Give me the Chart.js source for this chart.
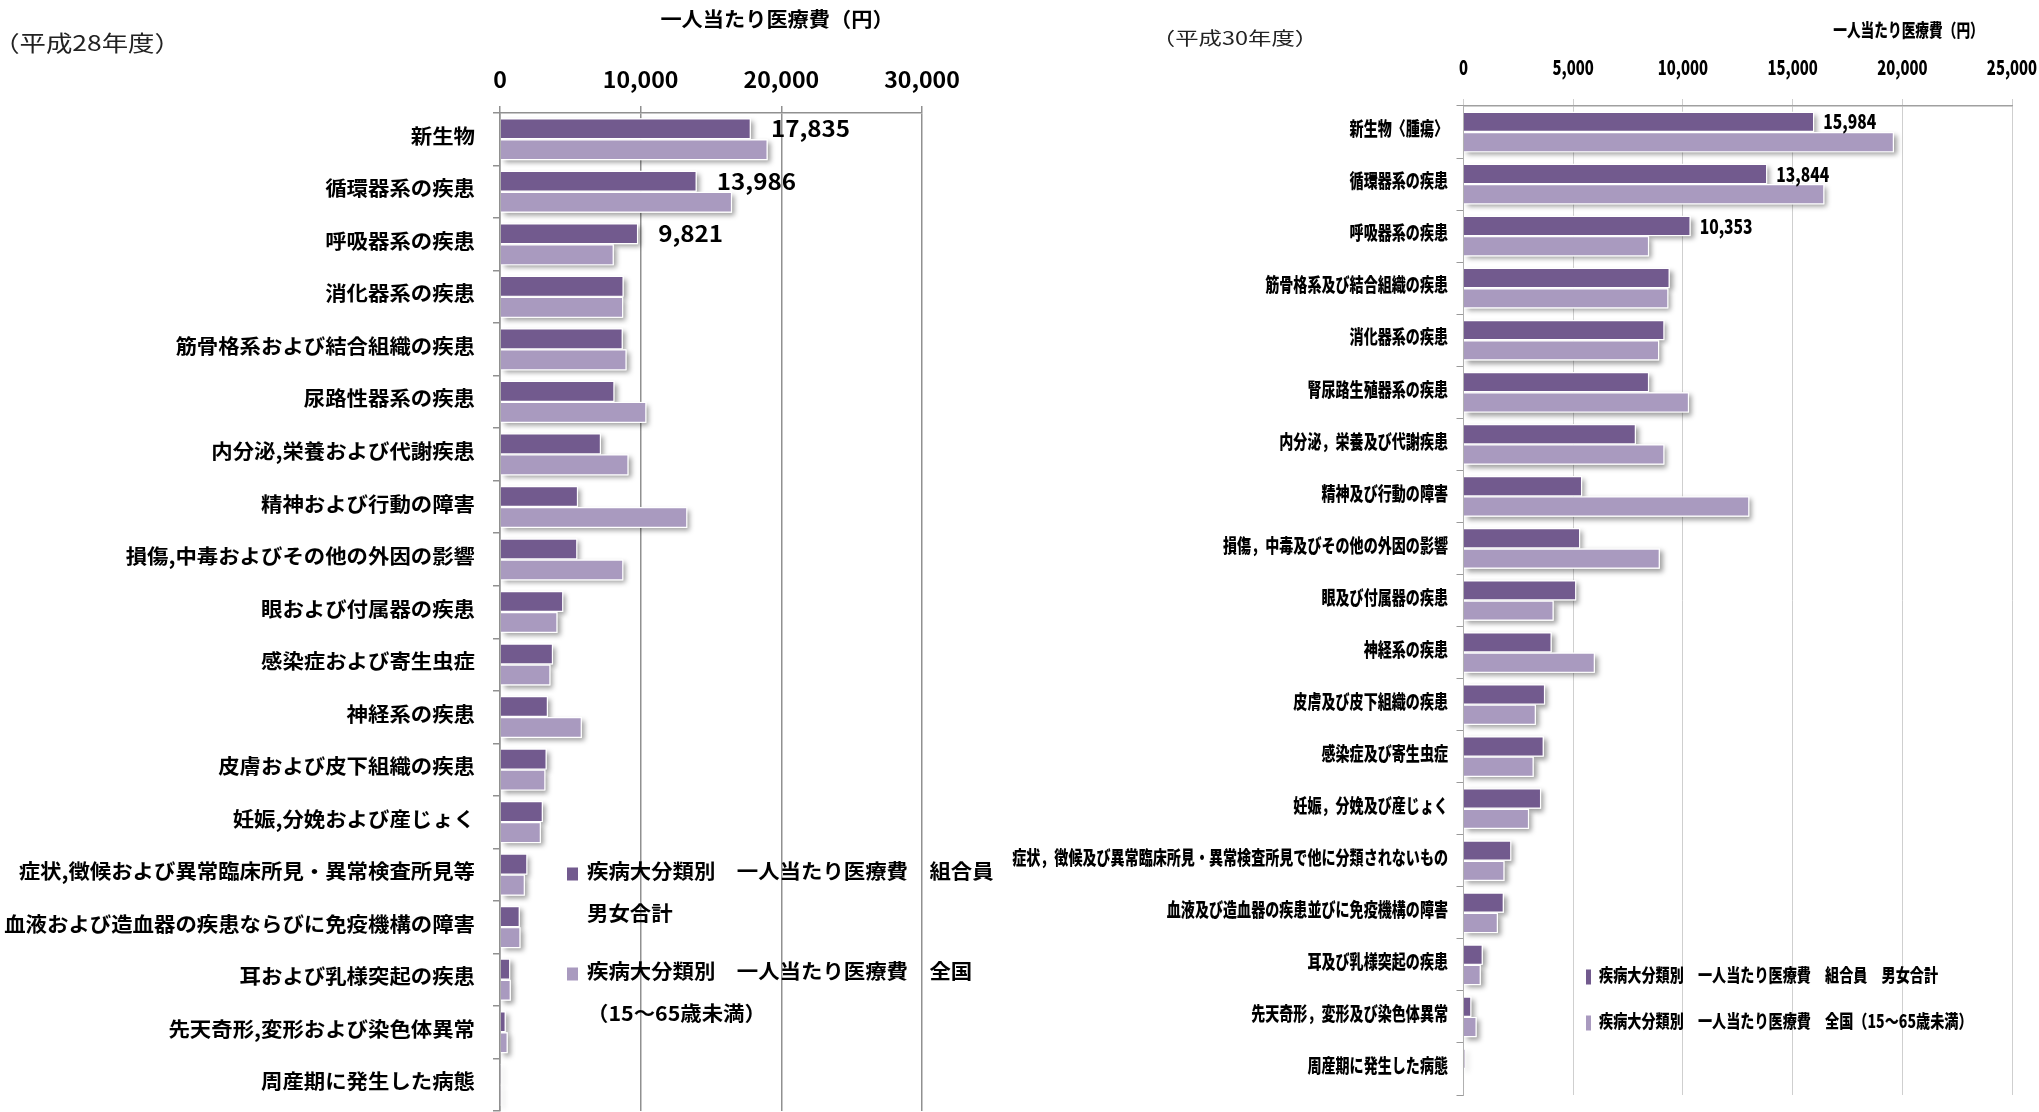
<!DOCTYPE html>
<html lang="ja">
<head>
<meta charset="utf-8">
<title>疾病大分類別 一人当たり医療費</title>
<script src="https://cdn.jsdelivr.net/npm/chart.js@4.4.1/dist/chart.umd.min.js"></script>
<style>
  html, body { margin: 0; padding: 0; background: #fff; overflow: hidden; }
  body { width: 2039px; height: 1112px; position: relative; }
  canvas { position: absolute; top: 0; }
  #h28 { left: 0; }
  #h30 { left: 1000px; }
</style>
</head>
<body>
<canvas id="h28" width="1000" height="1112"></canvas>
<canvas id="h30" width="1039" height="1112"></canvas>
<script>
// ---- data -------------------------------------------------------------
const seriesNames = [
  '疾病大分類別　一人当たり医療費　組合員　男女合計',
  '疾病大分類別　一人当たり医療費　全国（15～65歳未満）'
];

const categoriesH28 = [
  '新生物', '循環器系の疾患', '呼吸器系の疾患', '消化器系の疾患',
  '筋骨格系および結合組織の疾患', '尿路性器系の疾患', '内分泌,栄養および代謝疾患',
  '精神および行動の障害', '損傷,中毒およびその他の外因の影響', '眼および付属器の疾患',
  '感染症および寄生虫症', '神経系の疾患', '皮膚および皮下組織の疾患',
  '妊娠,分娩および産じょく', '症状,徴候および異常臨床所見・異常検査所見等',
  '血液および造血器の疾患ならびに免疫機構の障害', '耳および乳様突起の疾患',
  '先天奇形,変形および染色体異常', '周産期に発生した病態'
];
const kumiaiH28  = [17835, 13986, 9821, 8790, 8730, 8140, 7180, 5550, 5500, 4500, 3770, 3410, 3320, 3050, 1950, 1410, 730, 410, 15];
const zenkokuH28 = [19030, 16500, 8090, 8760, 9000, 10410, 9140, 13320, 8770, 4090, 3590, 5820, 3230, 2910, 1770, 1460, 770, 550, 10];
const ticksH28 = [0, 10000, 20000, 30000];

const categoriesH30 = [
  '新生物〈腫瘍〉', '循環器系の疾患', '呼吸器系の疾患', '筋骨格系及び結合組織の疾患',
  '消化器系の疾患', '腎尿路生殖器系の疾患', '内分泌，栄養及び代謝疾患',
  '精神及び行動の障害', '損傷，中毒及びその他の外因の影響', '眼及び付属器の疾患',
  '神経系の疾患', '皮膚及び皮下組織の疾患', '感染症及び寄生虫症',
  '妊娠，分娩及び産じょく', '症状，徴候及び異常臨床所見・異常検査所見で他に分類されないもの',
  '血液及び造血器の疾患並びに免疫機構の障害', '耳及び乳様突起の疾患',
  '先天奇形，変形及び染色体異常', '周産期に発生した病態'
];
const kumiaiH30  = [15984, 13844, 10353, 9400, 9160, 8460, 7860, 5410, 5320, 5140, 4020, 3720, 3660, 3540, 2180, 1840, 880, 360, 60];
const zenkokuH30 = [19620, 16450, 8460, 9340, 8920, 10280, 9160, 13030, 8950, 4110, 5990, 3300, 3200, 2990, 1870, 1570, 790, 600, 30];
const ticksH30 = [0, 5000, 10000, 15000, 20000, 25000];

const labelledBars = 3;   // first bars of the 組合員 series carry a value label

// ---- styling ------------------------------------------------------------
const FAMILY = "'Noto Sans CJK JP', 'Noto Sans', sans-serif";
const DARK = '#725A8E';
const LIGHT = '#A99ABF';
const fmt = v => v.toLocaleString('en-US');

// text with an optional horizontal stretch (sx)
function drawText(ctx, text, x, y, f, align) {
  ctx.save();
  ctx.font = `${f.weight} ${f.size}px ${FAMILY}`;
  ctx.fillStyle = f.color || '#000';
  ctx.textBaseline = 'middle';
  ctx.textAlign = align;
  ctx.translate(x, y);
  ctx.scale(f.sx, 1);
  ctx.fillText(text, 0, 0);
  ctx.restore();
}
function textWidth(ctx, text, f) {
  ctx.save();
  ctx.font = `${f.weight} ${f.size}px ${FAMILY}`;
  const w = ctx.measureText(text).width * f.sx;
  ctx.restore();
  return w;
}
// break a legend label into lines at full-width spaces / before an opening bracket
function wrapLabel(ctx, text, f, maxWidth) {
  const parts = text.split(/(?<=　)|(?=（)/);
  const lines = [];
  let cur = '';
  parts.forEach(p => {
    const trial = cur + p;
    if (cur && textWidth(ctx, trial.replace(/　+$/, ''), f) > maxWidth) {
      lines.push(cur.replace(/　+$/, ''));
      cur = p;
    } else {
      cur = trial;
    }
  });
  if (cur) lines.push(cur.replace(/　+$/, ''));
  return lines;
}

function decorations(look) {
  return {
    id: 'decor',
    beforeDatasetsDraw(chart) {
      // soft drop shadow under every bar
      const ctx = chart.ctx;
      ctx.save();
      ctx.shadowColor = 'rgba(0,0,0,0.38)';
      ctx.shadowBlur = 5;
      ctx.shadowOffsetX = 3;
      ctx.shadowOffsetY = 3;
      ctx.fillStyle = '#fff';
      chart.data.datasets.forEach((ds, di) => {
        chart.getDatasetMeta(di).data.forEach(bar => {
          const p = bar.getProps(['x', 'y', 'base', 'height'], true);
          const w = Math.abs(p.x - p.base);
          if (w < 0.5) return;
          ctx.fillRect(Math.min(p.x, p.base), p.y - p.height / 2, w, p.height);
        });
      });
      ctx.restore();
    },
    afterDatasetsDraw(chart) {
      const ctx = chart.ctx;
      const meta = chart.getDatasetMeta(0);
      const values = chart.data.datasets[0].data;
      for (let i = 0; i < labelledBars; i++) {
        const bar = meta.data[i];
        drawText(ctx, fmt(values[i]), bar.x + look.valueGap, bar.y, look.valueFont, 'left');
      }
    },
    afterDraw(chart) {
      const ctx = chart.ctx;
      const xs = chart.scales.x, ys = chart.scales.y;
      // category labels
      chart.data.labels.forEach((lab, i) => {
        drawText(ctx, lab, ys.right - look.tickLen - look.catPad,
                 ys.getPixelForValue(i) + look.catDy, look.catFont, 'right');
      });
      // value axis labels
      xs.ticks.forEach(t => {
        drawText(ctx, fmt(t.value), xs.getPixelForValue(t.value), look.tickY, look.tickFont, 'center');
      });
      // axis title and fiscal year note
      drawText(ctx, '一人当たり医療費（円）', chart.chartArea.right - look.titleFromRight, look.titleY, look.titleFont, 'center');
      drawText(ctx, look.note, look.noteX, look.noteY, look.noteFont, 'center');
      // legend
      const L = look.legend;
      let y = L.y;
      chart.data.datasets.forEach(ds => {
        const lines = wrapLabel(ctx, ds.label, look.legendFont, L.maxWidth);
        ctx.fillStyle = ds.backgroundColor;
        ctx.fillRect(L.boxX, y + L.boxDy - L.boxH / 2, L.boxW, L.boxH);
        lines.forEach((ln, k) => {
          drawText(ctx, ln, L.textX, y + k * L.lineGap, look.legendFont, 'left');
        });
        y += L.itemGap;
      });
    }
  };
}

function buildChart(canvasId, cats, kumiai, zenkoku, ticks, look) {
  return new Chart(document.getElementById(canvasId), {
    type: 'bar',
    data: {
      labels: cats,
      datasets: [
        { label: seriesNames[0], data: kumiai, backgroundColor: DARK, borderColor: '#fff',
          borderWidth: 1.2, categoryPercentage: look.catPct, barPercentage: 1 },
        { label: seriesNames[1], data: zenkoku, backgroundColor: LIGHT, borderColor: '#fff',
          borderWidth: 1.2, categoryPercentage: look.catPct, barPercentage: 1 }
      ]
    },
    options: {
      indexAxis: 'y',
      responsive: false,
      animation: false,
      devicePixelRatio: 1,
      layout: { padding: look.padding },
      plugins: { legend: { display: false }, tooltip: { enabled: false }, title: { display: false } },
      scales: {
        x: {
          position: 'top',
          min: ticks[0],
          max: ticks[ticks.length - 1],
          ticks: { stepSize: ticks[1] - ticks[0], display: false },
          grid: { color: look.gridColor, lineWidth: look.gridWidth, tickLength: look.tickLen },
          border: { color: look.axisColor, width: look.axisWidth, z: 1 },
          afterFit(s) { s.height = look.xAxisHeight; }
        },
        y: {
          ticks: { display: false, autoSkip: false },
          grid: { drawOnChartArea: false, color: look.yTickColor, lineWidth: look.gridWidth, tickLength: look.tickLen },
          border: { color: look.yAxisColor, width: look.gridWidth, z: 1 },
          afterFit(s) { s.width = look.yAxisWidth; }
        }
      }
    },
    plugins: [decorations(look)]
  });
}

// 平成28年度
buildChart('h28', categoriesH28, kumiaiH28, zenkokuH28, ticksH28, {
  padding: { left: 0, right: 78, top: 0, bottom: 1 },
  xAxisHeight: 113,
  yAxisWidth: 500,
  catPct: 0.8,
  tickLen: 7,
  catPad: 18,
  catDy: -3,
  gridColor: '#909090', gridWidth: 1.5,
  axisColor: '#909090', axisWidth: 1.5,
  yAxisColor: '#909090', yTickColor: '#909090',
  catFont:    { size: 20, weight: 'bold', sx: 1.07 },
  tickFont:   { size: 22, weight: 'bold', sx: 1.05 },
  valueFont:  { size: 22, weight: 'bold', sx: 1.1 },
  titleFont:  { size: 20, weight: 'bold', sx: 1.06 },
  noteFont:   { size: 22, weight: 'normal', sx: 1.2, color: '#222' },
  legendFont: { size: 20, weight: 'bold', sx: 1.07 },
  valueGap: 20,
  tickY: 80,
  titleY: 19, titleFromRight: 145,
  note: '（平成28年度）', noteX: 87, noteY: 43,
  legend: { boxX: 567, boxW: 11, boxH: 13, boxDy: 3, textX: 587, y: 871, lineGap: 42, itemGap: 100, maxWidth: 420 }
});

// 平成30年度
buildChart('h30', categoriesH30, kumiaiH30, zenkokuH30, ticksH30, {
  padding: { left: 0, right: 27, top: 0, bottom: 17 },
  xAxisHeight: 106,
  yAxisWidth: 463.5,
  catPct: 0.78,
  tickLen: 7,
  catPad: 8.5,
  catDy: -3,
  gridColor: '#cfcfcf', gridWidth: 1,
  axisColor: '#a0a0a0', axisWidth: 1.5,
  yAxisColor: '#b0b0b0', yTickColor: '#9a9a9a',
  catFont:    { size: 19, weight: '900', sx: 0.74 },
  tickFont:   { size: 20, weight: '900', sx: 0.74 },
  valueFont:  { size: 20, weight: '900', sx: 0.78 },
  titleFont:  { size: 18, weight: '900', sx: 0.76 },
  noteFont:   { size: 18, weight: 'normal', sx: 1.3, color: '#222' },
  legendFont: { size: 18, weight: '900', sx: 0.785 },
  valueGap: 9,
  tickY: 67,
  titleY: 30, titleFromRight: 103.5,
  note: '（平成30年度）', noteX: 235, noteY: 38,
  legend: { boxX: 586, boxW: 5, boxH: 15, boxDy: 2, textX: 599, y: 975, lineGap: 0, itemGap: 46, maxWidth: 10000 }
});
</script>
</body>
</html>
